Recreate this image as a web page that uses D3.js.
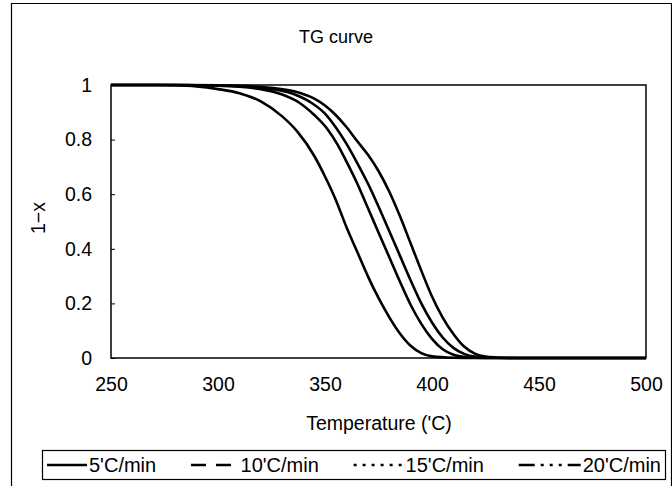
<!DOCTYPE html>
<html>
<head>
<meta charset="utf-8">
<script src="https://cdn.jsdelivr.net/npm/d3@7"></script>
<style>
  html, body { margin: 0; padding: 0; background: #fff; }
  svg { display: block; }
  text { font-family: "Liberation Sans", Arial, sans-serif; fill: #000; }
</style>
</head>
<body>
<script>
// ---- data ----
const title = "TG curve";
const xLabel = "Temperature ('C)";
const yLabel = "1\u2212x";
const xTicks = [250, 300, 350, 400, 450, 500];
const yTicks = [0, 0.2, 0.4, 0.6, 0.8, 1];
const seriesNames = ["5'C/min", " 10'C/min", "15'C/min", "20'C/min"];

const t5  = [250, 270, 280, 290, 300, 310, 320, 330, 337, 345, 350, 355, 360, 365, 370, 375, 380, 385, 390, 395, 400, 410, 420, 500];
const v5  = [1, 1, 0.999, 0.995, 0.985, 0.97, 0.94, 0.885, 0.83, 0.74, 0.665, 0.58, 0.48, 0.39, 0.30, 0.22, 0.15, 0.09, 0.045, 0.018, 0.006, 0.001, 0, 0];
const t10 = [250, 280, 300, 320, 330, 338, 345, 351, 356, 360, 365, 370, 375, 380, 385, 390, 395, 400, 405, 410, 415, 420, 430, 500];
const v10 = [1, 1, 0.997, 0.985, 0.965, 0.935, 0.89, 0.84, 0.78, 0.72, 0.64, 0.55, 0.46, 0.37, 0.28, 0.195, 0.125, 0.07, 0.032, 0.012, 0.004, 0.001, 0, 0];
const t15 = [250, 280, 300, 320, 335, 343, 350, 355, 360, 365, 370, 375, 380, 385, 390, 395, 400, 405, 410, 415, 420, 430, 440, 500];
const v15 = [1, 1, 0.998, 0.99, 0.968, 0.938, 0.895, 0.845, 0.785, 0.715, 0.64, 0.555, 0.465, 0.375, 0.285, 0.2, 0.13, 0.075, 0.037, 0.015, 0.005, 0.001, 0, 0];
const t20 = [250, 280, 300, 320, 335, 345, 350, 355, 360, 365, 370, 375, 380, 385, 390, 395, 400, 405, 410, 415, 420, 425, 430, 440, 500];
const v20 = [1, 1, 0.999, 0.993, 0.978, 0.95, 0.925, 0.89, 0.846, 0.795, 0.745, 0.685, 0.61, 0.52, 0.42, 0.32, 0.225, 0.148, 0.088, 0.042, 0.016, 0.005, 0.002, 0, 0];

const seriesT = [t5, t10, t15, t20];
const seriesV = [v5, v10, v15, v20];
const legendDash = [null, "15,10", "3,6", "16,6,3,6,3,6,3,6"];

// ---- layout ----
const W = 672, H = 486;
const plot = { left: 111, right: 646, top: 85, bottom: 358 };
const FONT = "Liberation Sans, Arial, sans-serif";

const svg = d3.select("body").append("svg").attr("width", W).attr("height", H);

// outer frame
svg.append("path")
  .attr("d", `M11.5,${H} V3.5 H671.5 V${H}`)
  .attr("fill", "none").attr("stroke", "#000").attr("stroke-width", 1.2);

const x = d3.scaleLinear().domain([250, 500]).range([plot.left, plot.right]);
const y = d3.scaleLinear().domain([0, 1]).range([plot.bottom, plot.top]);

// plot frame
svg.append("rect")
  .attr("x", plot.left).attr("y", plot.top)
  .attr("width", plot.right - plot.left).attr("height", plot.bottom - plot.top)
  .attr("fill", "none").attr("stroke", "#000").attr("stroke-width", 1.5);

// axes
const yAxis = d3.axisLeft(y).tickValues(yTicks).tickSize(-4).tickPadding(19)
  .tickFormat(d => d3.format("~g")(d));
svg.append("g").attr("transform", `translate(${plot.left},0)`).call(yAxis)
  .call(g => g.select(".domain").remove())
  .call(g => g.selectAll("text").attr("font-size", 19.5).attr("font-family", FONT));

const xAxis = d3.axisBottom(x).tickValues(xTicks).tickSize(0).tickPadding(19)
  .tickFormat(d3.format("d"));
svg.append("g").attr("transform", `translate(0,${plot.bottom})`).call(xAxis)
  .call(g => g.select(".domain").remove())
  .call(g => g.selectAll("text").attr("font-size", 19.5).attr("font-family", FONT));

// curves
const line = d3.line().x(d => x(d[0])).y(d => y(d[1])).curve(d3.curveMonotoneX);
seriesT.forEach((ts, i) => {
  const pts = ts.map((t, j) => [t, seriesV[i][j]]);
  svg.append("path").datum(pts)
    .attr("d", line)
    .attr("fill", "none").attr("stroke", "#000").attr("stroke-width", 2.6)
    .attr("stroke-linejoin", "round");
});

// title & labels
svg.append("text").attr("x", 336).attr("y", 43).attr("text-anchor", "middle")
  .attr("font-size", 18).text(title);
svg.append("text").attr("x", 379).attr("y", 430).attr("text-anchor", "middle")
  .attr("font-size", 19.5).text(xLabel);
svg.append("text").attr("transform", "translate(45,218) rotate(-90)").attr("text-anchor", "middle")
  .attr("font-size", 19.5).text(yLabel);

// legend
const box = { x: 42.5, y: 450.5, w: 623, h: 29 };
const lg = svg.append("g");
lg.append("rect").attr("x", box.x).attr("y", box.y).attr("width", box.w).attr("height", box.h)
  .attr("fill", "#fff").attr("stroke", "#000").attr("stroke-width", 1.2);
const sampleW = [40, 42, 50, 62];
const texts = seriesNames.map(name =>
  lg.append("text").attr("y", 472).attr("font-size", 20).attr("xml:space", "preserve").text(name));
const widths = texts.map(t => t.node().getComputedTextLength());
const startX = 47, endX = 661, txtGap = 2;
const used = d3.sum(sampleW) + d3.sum(widths) + txtGap * 4;
const gap = (endX - startX - used) / 3;
let cx = startX;
seriesNames.forEach((name, i) => {
  lg.append("line")
    .attr("x1", cx).attr("x2", cx + sampleW[i])
    .attr("y1", 465).attr("y2", 465)
    .attr("stroke", "#000").attr("stroke-width", 2.6)
    .attr("stroke-dasharray", legendDash[i]);
  texts[i].attr("x", cx + sampleW[i] + txtGap);
  cx += sampleW[i] + txtGap + widths[i] + gap;
});
</script>
</body>
</html>
